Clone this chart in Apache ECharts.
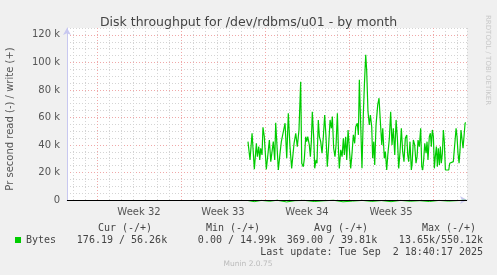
<!DOCTYPE html>
<html>
<head>
<meta charset="utf-8">
<script src="https://cdn.jsdelivr.net/npm/echarts@6/dist/echarts.min.js"></script>
<style>
  html, body { margin: 0; padding: 0; background: #f0f0f0; }
  #chart { width: 497px; height: 275px; }
</style>
</head>
<body>
<div id="chart"></div>
<script>
// x values are days from the left edge of the month window (Aug 1 ~12:00)
const weekLabels = { 6: 'Week 32', 13: 'Week 33', 20: 'Week 34', 27: 'Week 35' };

// write (+) bytes per second, in k
const writeDays = [
    15.08, 15.25, 15.42, 15.53, 15.61, 15.78, 15.86, 15.98, 16.06, 16.14,
    16.25, 16.33, 16.44, 16.61, 16.75, 16.86, 16.98, 17.19, 17.31, 17.39,
    17.61, 17.75, 17.86, 18.00, 18.17, 18.31, 18.44, 18.58, 18.72, 18.92,
    19.06, 19.19, 19.33, 19.47, 19.56, 19.69, 19.78, 19.89, 19.97, 20.06,
    20.19, 20.28, 20.36, 20.44, 20.56, 20.64, 20.75, 20.83, 20.94, 21.03,
    21.14, 21.25, 21.36, 21.47, 21.58, 21.69, 21.78, 21.92, 22.03, 22.11,
    22.22, 22.33, 22.42, 22.53, 22.61, 22.69, 22.81, 22.92, 23.03, 23.11,
    23.22, 23.31, 23.42, 23.53, 23.64, 23.75, 23.86, 23.97, 24.06, 24.19,
    24.28, 24.36, 24.44, 24.58, 24.69, 24.78, 24.89, 24.97, 25.08, 25.19,
    25.28, 25.39, 25.47, 25.56, 25.64, 25.75, 25.89, 26.00, 26.11, 26.23,
    26.31, 26.44, 26.53, 26.64, 26.73, 26.86, 26.97, 27.08, 27.19, 27.31,
    27.42, 27.53, 27.64, 27.75, 27.86, 27.97, 28.08, 28.19, 28.31, 28.39,
    28.47, 28.58, 28.69, 28.75, 28.86, 28.97, 29.08, 29.17, 29.25, 29.36,
    29.47, 29.56, 29.64, 29.72, 29.81, 29.92, 30.00, 30.08, 30.19, 30.28,
    30.36, 30.44, 30.53, 30.61, 30.69, 30.78, 30.86, 30.94, 31.03, 31.11,
    31.19, 31.28, 31.36, 31.44, 31.53, 31.67, 31.81, 31.89, 32.03, 32.19,
    32.31, 32.42, 32.50, 32.58, 32.67, 32.75, 32.83, 32.92, 33.00, 33.08,
    33.17, 33.23
];
const writeK = [
    42.4, 29.1, 48.5, 48.0, 22.3, 41.2, 31.5, 38.8, 29.1, 37.6,
    32.7, 52.9, 46.0, 22.3, 34.0, 43.6, 27.9, 42.4, 29.1, 56.2,
    21.8, 34.0, 42.4, 43.6, 55.8, 30.3, 63.0, 38.8, 23.0, 41.2,
    48.5, 38.8, 50.9, 86.0, 26.7, 24.2, 30.3, 46.0, 42.4, 46.0,
    40.0, 31.5, 42.4, 64.2, 44.8, 23.0, 29.1, 26.7, 58.2, 46.0,
    42.4, 34.0, 46.0, 61.8, 46.0, 24.2, 36.4, 58.2, 52.1, 60.6,
    37.6, 31.5, 40.0, 63.0, 38.8, 23.0, 36.4, 31.5, 44.8, 32.7,
    46.0, 29.1, 50.9, 52.1, 23.0, 34.0, 47.3, 41.2, 53.3, 55.8,
    47.3, 87.3, 64.2, 23.0, 61.8, 83.6, 105.5, 94.5, 64.2, 54.5,
    61.8, 53.3, 30.3, 42.4, 25.5, 54.5, 69.1, 74.0, 57.0, 40.0,
    52.1, 30.3, 35.1, 21.8, 32.7, 44.8, 64.2, 40.0, 52.1, 32.7,
    58.2, 44.8, 23.0, 35.1, 52.1, 35.1, 27.9, 44.8, 47.3, 32.7,
    27.9, 42.4, 21.8, 25.5, 43.6, 40.0, 26.7, 31.5, 43.6, 38.8,
    52.1, 24.2, 21.8, 29.1, 41.2, 34.0, 42.4, 29.1, 46.0, 48.5,
    38.8, 50.9, 46.0, 23.0, 31.5, 38.8, 24.2, 37.6, 25.5, 38.8,
    26.7, 34.0, 50.9, 42.4, 21.8, 21.8, 21.8, 26.7, 27.2, 27.9,
    27.9, 52.1, 46.0, 34.0, 26.7, 36.4, 50.9, 51.4, 37.6, 36.4,
    55.8, 56.3
];

// read (-) bytes per second, in k (drawn below zero, mostly hidden)
const readDays = [15.08, 15.6, 16.2, 16.9, 17.5, 18.3, 19.0, 19.8, 20.6, 21.4,
    22.2, 23.0, 23.8, 24.6, 25.4, 26.2, 27.0, 27.8, 28.6, 29.4, 30.2, 31.0,
    31.8, 32.6, 33.23];
const readK = [-0.4, -1.2, -0.3, -0.9, -0.2, -1.4, -0.5, -0.3, -1.1, -0.6,
    -0.2, -1.3, -0.8, -0.3, -1.0, -0.4, -1.2, -0.3, -0.9, -0.5, -1.1, -0.3,
    -0.8, -0.4, -0.2];

const statHeads = ['Cur (-/+)', 'Min (-/+)', 'Avg (-/+)', 'Max (-/+)'];
const statVals = ['176.19 / 56.26k', '0.00 / 14.99k', '369.00 / 39.81k', '13.65k/550.12k'];
const headX = [125, 233, 341, 449];
const valX = [122, 237, 332, 441];

const mono = '"DejaVu Sans Mono", monospace';
const sans = '"DejaVu Sans", sans-serif';

// vertical lines every half day starting at 0: odd ticks are days, Mondays red
const dayColors = [];
for (let i = 0; i < 14; i++) {
    dayColors.push(i === 5 ? '#f0a8a8' : (i % 2 === 1 ? '#d4d4d4' : 'rgba(0,0,0,0)'));
}

const chart = echarts.init(document.getElementById('chart'));

chart.setOption({
    backgroundColor: '#f0f0f0',
    animation: false,
    title: {
        text: 'Disk throughput for /dev/rdbms/u01 - by month',
        left: 'center',
        top: 11,
        textStyle: { fontFamily: sans, fontSize: 12.5, fontWeight: 'normal', color: '#444' }
    },
    legend: {
        data: ['Bytes'],
        left: 10,
        top: 230,
        icon: 'rect',
        itemWidth: 6,
        itemHeight: 6,
        itemGap: 4,
        textStyle: { fontFamily: mono, fontSize: 10, color: '#444' }
    },
    grid: {
        left: 67, right: 30, top: 28, bottom: 75,
        show: true, backgroundColor: '#ffffff', borderWidth: 0
    },
    xAxis: {
        type: 'value',
        min: 0,
        max: 33.33,
        interval: 0.5,
        offset: 4,
        axisLine: {
            show: true,
            lineStyle: { color: '#c8c8f0' },
            symbol: ['none', 'arrow'],
            symbolSize: [6, 7]
        },
        axisTick: { show: false },
        axisLabel: {
            interval: 0,
            margin: 3,
            color: '#555',
            fontFamily: sans,
            fontSize: 10,
            formatter: v => weekLabels[v] || ''
        },
        splitLine: {
            show: true,
            lineStyle: { color: dayColors, type: [1, 2], width: 1 }
        }
    },
    yAxis: {
        type: 'value',
        min: 0,
        max: 125000,
        interval: 5000,
        axisLine: {
            show: true,
            lineStyle: { color: '#c8c8f0' },
            symbol: ['none', 'arrow'],
            symbolSize: [6, 7]
        },
        axisTick: { show: false },
        axisLabel: {
            margin: 7,
            color: '#555',
            fontFamily: sans,
            fontSize: 10,
            formatter: v => v % 20000 !== 0 ? '' : (v === 0 ? '0' : (v / 1000) + ' k')
        },
        splitLine: {
            show: true,
            lineStyle: { color: ['#f0a8a8', '#d4d4d4', '#d4d4d4', '#d4d4d4'], type: [1, 2], width: 1 }
        }
    },
    series: [
        {
            name: 'read',
            type: 'line',
            data: readDays.map((d, i) => [d, readK[i] * 1000]),
            showSymbol: false,
            clip: false,
            lineStyle: { color: '#00cc00', width: 1 },
            itemStyle: { color: '#00cc00' },
            z: 2
        },
        {
            name: 'Bytes',
            type: 'line',
            data: writeDays.map((d, i) => [d, writeK[i] * 1000]),
            showSymbol: false,
            lineStyle: { color: '#00cc00', width: 1.2 },
            itemStyle: { color: '#00cc00' },
            z: 3,
            markLine: {
                silent: true,
                symbol: 'none',
                label: { show: false },
                lineStyle: { color: '#000', type: 'solid', width: 1 },
                data: [{ yAxis: 0 }]
            }
        }
    ],
    graphic: [
        {
            type: 'text', rotation: Math.PI / 2, x: 10, y: 119,
            style: {
                text: 'Pr second read (-) / write (+)', font: '10px ' + sans,
                fill: '#555', textAlign: 'center', textVerticalAlign: 'middle'
            }
        },
        {
            type: 'text', rotation: -Math.PI / 2, x: 488, y: 15,
            style: {
                text: 'RRDTOOL / TOBI OETIKER', font: '7px ' + sans,
                fill: '#c8c8c8', textAlign: 'left', textVerticalAlign: 'middle'
            }
        },
        ...statHeads.map((h, i) => ({
            type: 'text', x: headX[i], y: 228,
            style: { text: h, font: '10px ' + mono, fill: '#444', textAlign: 'center', textVerticalAlign: 'middle' }
        })),
        ...statVals.map((t, i) => ({
            type: 'text', x: valX[i], y: 240,
            style: { text: t, font: '10px ' + mono, fill: '#444', textAlign: 'center', textVerticalAlign: 'middle' }
        })),
        {
            type: 'text', x: 483, y: 252,
            style: {
                text: 'Last update: Tue Sep  2 18:40:17 2025', font: '10px ' + mono,
                fill: '#444', textAlign: 'right', textVerticalAlign: 'middle'
            }
        },
        {
            type: 'text', x: 248, y: 264,
            style: {
                text: 'Munin 2.0.75', font: '7.5px ' + sans,
                fill: '#bbbbbb', textAlign: 'center', textVerticalAlign: 'middle'
            }
        }
    ]
});
</script>
</body>
</html>
